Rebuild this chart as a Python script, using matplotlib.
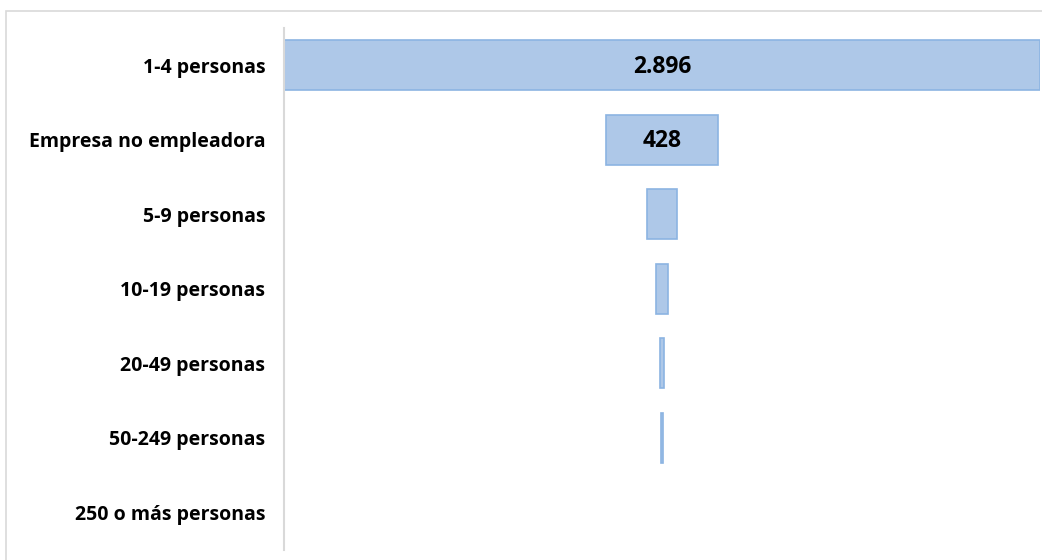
import matplotlib.pyplot as plt
from matplotlib.patches import Rectangle

# Data (empresas por tamaño)
categorias = ["1-4 personas", "Empresa no empleadora", "5-9 personas",
              "10-19 personas", "20-49 personas", "50-249 personas",
              "250 o más personas"]
valores = [2896, 428, 112, 46, 18, 7, 0]
etiquetas = ["2.896", "428", "", "", "", "", ""]

plt.rcParams['font.family'] = ['Open Sans', 'DejaVu Sans']

fig = plt.figure(figsize=(10.42, 5.6), dpi=100)
ax = fig.add_axes([284 / 1042, 1 - 549.5 / 560, (1040 - 284) / 1042, 521.5 / 560])

# outer frame (cropped at right and bottom)
fig.patches.append(Rectangle((6 / 1042, -0.1), 1.2, 1 - 11 / 560 + 0.1,
                             transform=fig.transFigure, fill=False,
                             edgecolor='#d9d9d9', linewidth=1.2))

# funnel: centred horizontal bars
izq = [-v / 2 for v in valores]
anchos_borde = [1.2 if v > 0 else 0 for v in valores]
ax.barh(range(len(valores)), valores, left=izq, height=0.67,
        color='#aec8e8', edgecolor='#8cb4e2', linewidth=anchos_borde)

for i, t in enumerate(etiquetas):
    if t:
        ax.text(0, i + 0.02, t, ha='center', va='center', fontsize=16.5,
                fontweight='bold', color='black')

ax.set_xlim(-valores[0] / 2 * 1.001, valores[0] / 2 * 1.001)
ax.set_ylim(len(valores) - 0.5, -0.5)
ax.set_yticks(range(len(categorias)))
ax.set_yticklabels(categorias, fontsize=14, fontweight='bold')
for lbl in ax.get_yticklabels():
    lbl.set_y(lbl.get_position()[1])
ax.tick_params(axis='y', length=0, pad=13.5)
ax.set_xticks([])

for s in ['top', 'right', 'bottom']:
    ax.spines[s].set_visible(False)
ax.spines['left'].set_color('#d9d9d9')
ax.spines['left'].set_linewidth(1.5)

fig.savefig('out.png', dpi=100)
